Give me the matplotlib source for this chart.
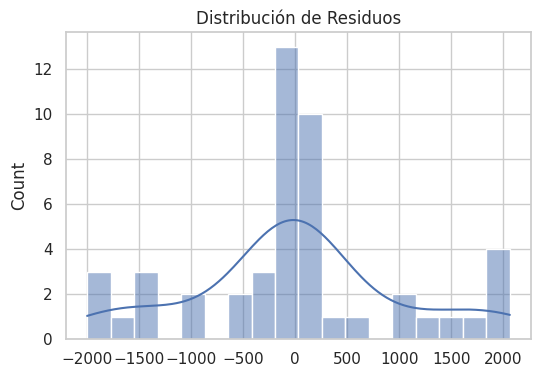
import matplotlib
matplotlib.use("Agg")
import matplotlib.pyplot as plt
import seaborn as sns
import numpy as np

# residual values (18 bins)
residuals = np.array([
    -2000, -1900, -1820,
    -1650,
    -1500, -1450, -1380,
    -1000, -950,
    -560, -480,
    -350, -300, -230,
    -180, -160, -140, -120, -100, -80, -60, -40, -20, -10, 0, 10, 25,
    40, 60, 80, 100, 120, 140, 170, 200, 220, 250,
    350,
    600,
    1000, 1080,
    1280,
    1500,
    1720,
    1880, 1950, 2010, 2064,
])
n_bins = 18
x_ticks = [-2000, -1500, -1000, -500, 0, 500, 1000, 1500, 2000]

sns.set_theme(style="whitegrid")

fig = plt.figure(figsize=(5.41, 3.78), dpi=100)
ax = fig.add_axes([0.122, 0.103, 0.8595, 0.812])
sns.histplot(residuals, bins=n_bins, kde=True, ax=ax)

ax.set_title("Distribución de Residuos")
ax.set_xticks(x_ticks)
ax.set_yticks([0, 2, 4, 6, 8, 10, 12])

fig.savefig("out.png", dpi=100)
